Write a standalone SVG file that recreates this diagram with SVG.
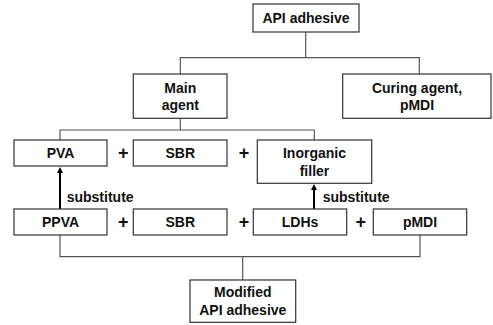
<svg xmlns="http://www.w3.org/2000/svg" width="493" height="325" viewBox="0 0 493 325">
<defs>
<style>
.box{fill:#fff;stroke:#333;stroke-width:1.2}
.t{font-family:"Liberation Sans",Arial,sans-serif;font-weight:bold;font-size:14px;fill:#111;text-anchor:middle}
.s{font-family:"Liberation Sans",Arial,sans-serif;font-weight:bold;font-size:14px;fill:#111}
.ln{fill:none;stroke:#555;stroke-width:1.2}
.ar{fill:none;stroke:#000;stroke-width:2;marker-end:url(#ah)}
.p{font-family:"Liberation Sans",Arial,sans-serif;font-weight:bold;font-size:18px;fill:#111;text-anchor:middle}
</style>
<marker id="ah" markerWidth="6" markerHeight="6" refX="3" refY="3" orient="auto" markerUnits="userSpaceOnUse">
<path d="M0,0 L6,3 L0,6 Z" fill="#000"/>
</marker>
</defs>
<rect width="493" height="325" fill="#fff"/>
<g id="connectors">
<path class="ln" d="M305.7,32 V57.7 M180.3,74 V57.7 H419.3 V74"/>
<path class="ln" d="M180.3,118.3 V130 M60,140 V130 H314.3 V140"/>
<path class="ln" d="M60,235 V256.7 H420 V235 M242.7,256.7 V280"/>
<path class="ar" d="M60,209 V170"/>
<path class="ar" d="M314,209 V187"/>
</g>
<g id="api"><rect class="box" x="253" y="4" width="106" height="28"/><text class="t" x="306" y="23">API adhesive</text></g>
<g id="main"><rect class="box" x="133.3" y="74" width="93.7" height="44.3"/><text class="t" x="180.3" y="93">Main</text><text class="t" x="180.3" y="110">agent</text></g>
<g id="curing"><rect class="box" x="342.7" y="74" width="148.3" height="44.3"/><text class="t" x="417" y="93">Curing agent,</text><text class="t" x="417" y="110">pMDI</text></g>
<g id="pva"><rect class="box" x="14" y="140" width="93" height="26"/><text class="t" x="60.5" y="158">PVA</text></g>
<g id="sbr1"><rect class="box" x="133.3" y="140" width="93.7" height="26"/><text class="t" x="180.3" y="158">SBR</text></g>
<g id="filler"><rect class="box" x="257.3" y="140" width="114.4" height="43.3"/><text class="t" x="314.5" y="158">Inorganic</text><text class="t" x="314.5" y="176">filler</text></g>
<g id="ppva"><rect class="box" x="14" y="209" width="93" height="26"/><text class="t" x="60.5" y="227">PPVA</text></g>
<g id="sbr2"><rect class="box" x="133.3" y="209" width="93.7" height="26"/><text class="t" x="180.3" y="227">SBR</text></g>
<g id="ldhs"><rect class="box" x="253.3" y="209" width="93.4" height="26"/><text class="t" x="300" y="227">LDHs</text></g>
<g id="pmdi"><rect class="box" x="373.3" y="209" width="93.4" height="26"/><text class="t" x="420" y="227">pMDI</text></g>
<g id="modified"><rect class="box" x="190" y="280" width="105.7" height="42.3"/><text class="t" x="242.8" y="297">Modified</text><text class="t" x="242.8" y="315">API adhesive</text></g>
<g id="labels">
<text class="p" x="123.3" y="159">+</text>
<text class="p" x="244" y="159">+</text>
<text class="p" x="123.3" y="228">+</text>
<text class="p" x="244" y="228">+</text>
<text class="p" x="360.7" y="228">+</text>
<text class="s" x="66.7" y="202">substitute</text>
<text class="s" x="322.7" y="202">substitute</text>
</g>
</svg>
